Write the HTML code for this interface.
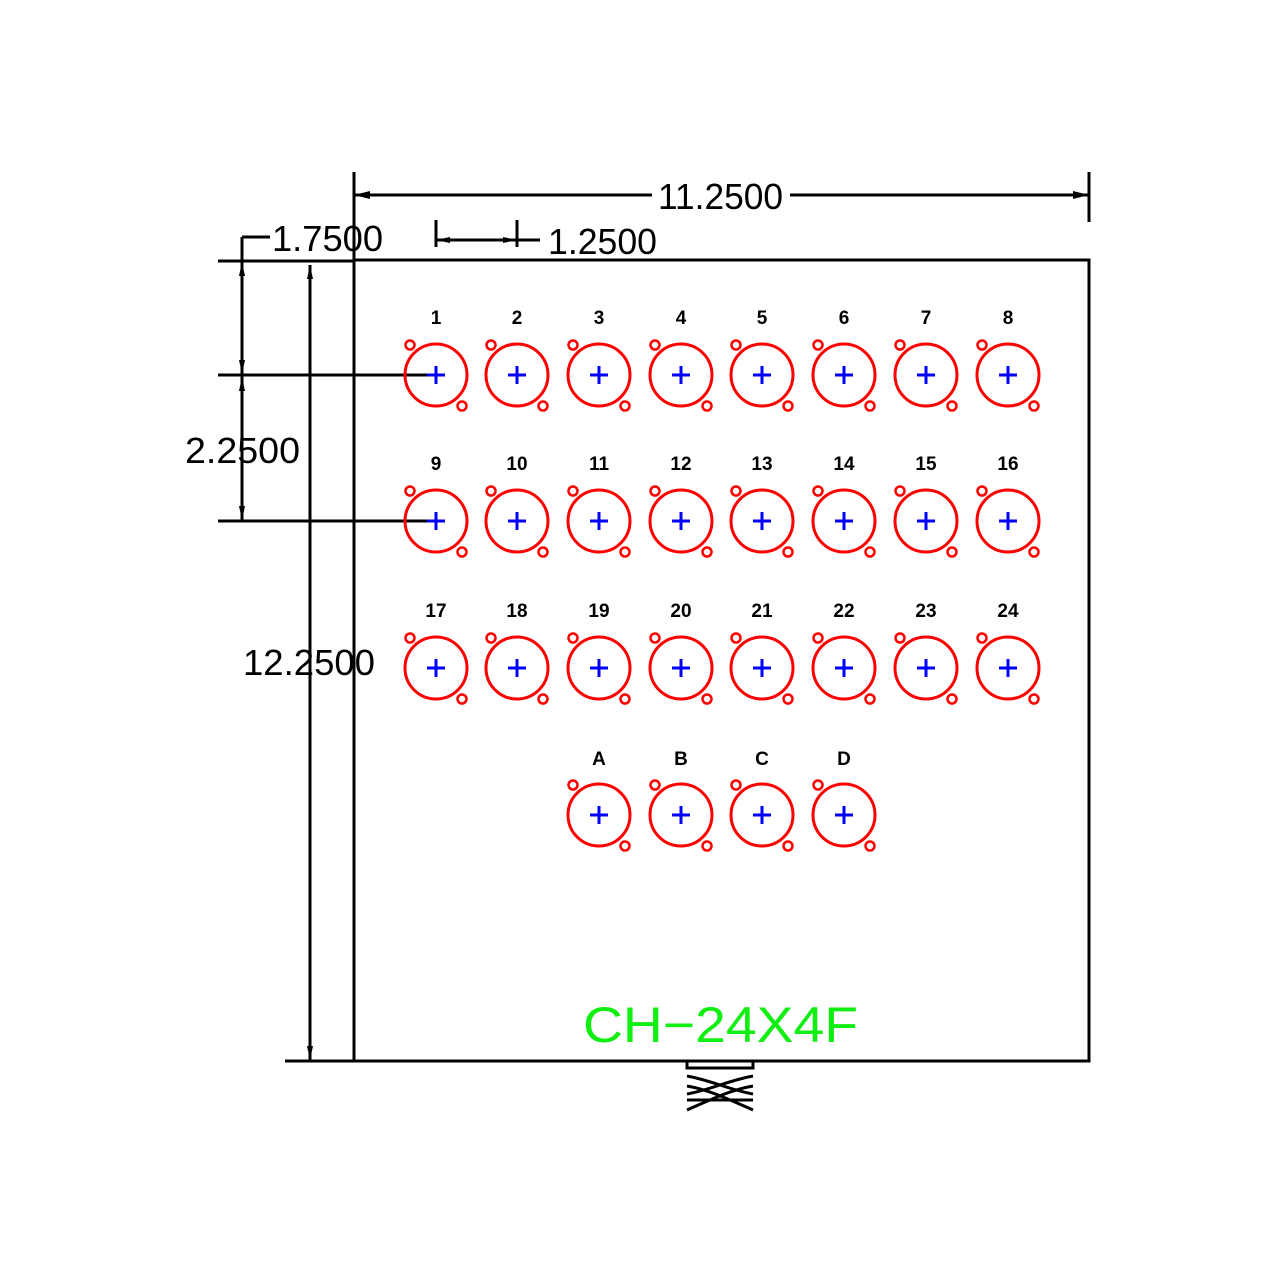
<!DOCTYPE html>
<html><head><style>html,body{margin:0;padding:0;background:#fff}svg{display:block}</style></head>
<body>
<svg width="1280" height="1280" viewBox="0 0 1280 1280" xmlns="http://www.w3.org/2000/svg">
<defs>
<g id="c">
<circle cx="0" cy="0" r="31" fill="none" stroke="#f00" stroke-width="3"/>
<circle cx="-26" cy="-30" r="4.5" fill="#fff" stroke="#f00" stroke-width="2.5"/>
<circle cx="26" cy="31" r="4.5" fill="#fff" stroke="#f00" stroke-width="2.5"/>
<path d="M-9 0H9M0 -9V9" stroke="#00f" stroke-width="3"/>
</g>
</defs>
<g stroke="#000" stroke-width="3" fill="none">
<rect x="354" y="260" width="735" height="801"/>
<path d="M354 172V260M1089 172V222M354 195H652M790 195H1089"/>
<path d="M218 261H354M285 1061H380M218 375H436M218 521H436"/>
<path d="M242 237V521M242 237H270M310 265V1061"/>
<path d="M436 220V247M517 220V247M436 240H540"/>
</g>
<g fill="#000">
<path d="M354 195l16-4v8zM1089 195l-16-4v8zM436 240l14-3v6zM517 240l-14-3v6z"/>
<path d="M242 262l-3 14h6zM242 374l-3-14h6zM242 377l-3 14h6zM242 520l-3-14h6zM310 265l-3 14h6zM310 1060l-3-14h6z"/>
</g>
<g font-family="Liberation Sans, sans-serif" font-size="36" fill="#000" lengthAdjust="spacingAndGlyphs">
<text x="658" y="209" textLength="125" lengthAdjust="spacingAndGlyphs">11.2500</text>
<text x="272" y="251" textLength="111" lengthAdjust="spacingAndGlyphs">1.7500</text>
<text x="548" y="254" textLength="109" lengthAdjust="spacingAndGlyphs">1.2500</text>
<text x="185" y="463" textLength="115" lengthAdjust="spacingAndGlyphs">2.2500</text>
<text x="243" y="675" textLength="132" lengthAdjust="spacingAndGlyphs">12.2500</text>
</g>
<text x="583" y="1042" textLength="275" lengthAdjust="spacingAndGlyphs" font-family="Liberation Sans, sans-serif" font-size="50" fill="#1e1">CH−24X4F</text>
<g font-family="Liberation Sans, sans-serif" font-size="19" font-weight="bold" fill="#000" text-anchor="middle">
<text x="436" y="324">1</text><text x="517" y="324">2</text><text x="599" y="324">3</text><text x="681" y="324">4</text><text x="762" y="324">5</text><text x="844" y="324">6</text><text x="926" y="324">7</text><text x="1008" y="324">8</text>
<text x="436" y="470">9</text><text x="517" y="470">10</text><text x="599" y="470">11</text><text x="681" y="470">12</text><text x="762" y="470">13</text><text x="844" y="470">14</text><text x="926" y="470">15</text><text x="1008" y="470">16</text>
<text x="436" y="617">17</text><text x="517" y="617">18</text><text x="599" y="617">19</text><text x="681" y="617">20</text><text x="762" y="617">21</text><text x="844" y="617">22</text><text x="926" y="617">23</text><text x="1008" y="617">24</text>
<text x="599" y="765">A</text><text x="681" y="765">B</text><text x="762" y="765">C</text><text x="844" y="765">D</text>
</g>
<use href="#c" x="436" y="375"/><use href="#c" x="517" y="375"/><use href="#c" x="599" y="375"/><use href="#c" x="681" y="375"/><use href="#c" x="762" y="375"/><use href="#c" x="844" y="375"/><use href="#c" x="926" y="375"/><use href="#c" x="1008" y="375"/>
<use href="#c" x="436" y="521"/><use href="#c" x="517" y="521"/><use href="#c" x="599" y="521"/><use href="#c" x="681" y="521"/><use href="#c" x="762" y="521"/><use href="#c" x="844" y="521"/><use href="#c" x="926" y="521"/><use href="#c" x="1008" y="521"/>
<use href="#c" x="436" y="668"/><use href="#c" x="517" y="668"/><use href="#c" x="599" y="668"/><use href="#c" x="681" y="668"/><use href="#c" x="762" y="668"/><use href="#c" x="844" y="668"/><use href="#c" x="926" y="668"/><use href="#c" x="1008" y="668"/>
<use href="#c" x="599" y="815"/><use href="#c" x="681" y="815"/><use href="#c" x="762" y="815"/><use href="#c" x="844" y="815"/>
<g stroke="#000" stroke-width="3" fill="none">
<path d="M687 1062V1068H753V1062"/>
<path d="M687 1076C710 1080 730 1090 753 1094M753 1076C730 1080 710 1090 687 1094M687 1086C710 1090 730 1100 753 1110M753 1086C730 1090 710 1100 687 1110M687 1100H753"/>
</g>
</svg>
</body></html>
